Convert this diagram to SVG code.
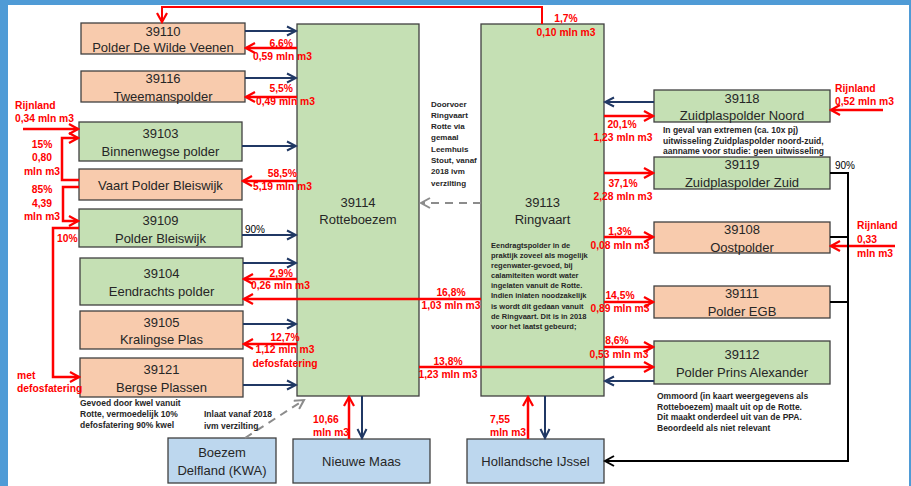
<svg xmlns="http://www.w3.org/2000/svg" width="911" height="486" viewBox="0 0 911 486">
<style>
.box{stroke:#404040;stroke-width:1.3}
.peach{fill:#F8CBAD}
.green{fill:#C5E0B4}
.blue{fill:#BDD7EE}
.t{font-family:"Liberation Sans",Arial,sans-serif;font-size:13px;fill:#262626;text-anchor:middle}
.r{font-family:"Liberation Sans",Arial,sans-serif;font-size:10.3px;font-weight:bold;fill:#FF0000}
.k{font-family:"Liberation Sans",Arial,sans-serif;font-size:10px;fill:#000}
.n{font-family:"Liberation Sans",Arial,sans-serif;font-size:8.5px;font-weight:bold;fill:#262626}
.n2{font-family:"Liberation Sans",Arial,sans-serif;font-size:7.5px;font-weight:bold;fill:#262626}
.n3{font-family:"Liberation Sans",Arial,sans-serif;font-size:8px;font-weight:bold;fill:#262626}
.mid{text-anchor:middle}
.end{text-anchor:end}
.red{stroke:#FF0000;stroke-width:2.5;fill:none}
.navy{stroke:#203864;stroke-width:2;fill:none}
.blk{stroke:#000;stroke-width:2;fill:none}
.dash{stroke:#8C8C8C;stroke-width:2;fill:none;stroke-dasharray:8 6}
</style>
<defs>
<marker id="mr" viewBox="0 0 12 12" refX="10" refY="6" markerWidth="12" markerHeight="12" markerUnits="userSpaceOnUse" orient="auto"><path d="M1,1 L10,6 L1,11" fill="none" stroke="#FF0000" stroke-width="2.2"/></marker>
<marker id="mn" viewBox="0 0 12 12" refX="10" refY="6" markerWidth="12" markerHeight="12" markerUnits="userSpaceOnUse" orient="auto"><path d="M1,1.5 L10,6 L1,10.5" fill="none" stroke="#203864" stroke-width="2"/></marker>
<marker id="mk" viewBox="0 0 12 12" refX="10" refY="6" markerWidth="12" markerHeight="12" markerUnits="userSpaceOnUse" orient="auto"><path d="M1,1 L10,6 L1,11" fill="none" stroke="#000" stroke-width="2"/></marker>
<marker id="mg" viewBox="0 0 12 12" refX="10" refY="6" markerWidth="12" markerHeight="12" markerUnits="userSpaceOnUse" orient="auto"><path d="M1,1 L10,6 L1,11" fill="none" stroke="#8C8C8C" stroke-width="2"/></marker>
</defs>
<rect x="0" y="0" width="911" height="486" fill="#4F9BD6"/>
<rect x="8" y="5" width="901" height="481" fill="#FFFFFF"/>

<g id="n39110"><rect class="box peach" x="81" y="23" width="164" height="31"/><text class="t" x="163" y="36">39110</text><text class="t" x="163" y="52">Polder De Wilde Veenen</text></g>
<g id="n39116"><rect class="box peach" x="81" y="71" width="164" height="31"/><text class="t" x="163" y="83">39116</text><text class="t" x="163" y="101">Tweemanspolder</text></g>
<g id="n39103"><rect class="box green" x="79" y="122" width="163" height="39"/><text class="t" x="160.5" y="138">39103</text><text class="t" x="160.5" y="156">Binnenwegse polder</text></g>
<g id="nVaart"><rect class="box peach" x="79" y="169" width="163" height="31"/><text class="t" x="160.5" y="190">Vaart Polder Bleiswijk</text></g>
<g id="n39109"><rect class="box green" x="79" y="209" width="163" height="38"/><text class="t" x="160.5" y="225">39109</text><text class="t" x="160.5" y="243">Polder Bleiswijk</text></g>
<g id="n39104"><rect class="box green" x="80" y="258" width="163" height="47"/><text class="t" x="161.5" y="278">39104</text><text class="t" x="161.5" y="296">Eendrachts polder</text></g>
<g id="n39105"><rect class="box peach" x="80" y="311" width="163" height="38"/><text class="t" x="161.5" y="327">39105</text><text class="t" x="161.5" y="344">Kralingse Plas</text></g>
<g id="n39121"><rect class="box peach" x="80" y="358" width="163" height="39"/><text class="t" x="161.5" y="374">39121</text><text class="t" x="161.5" y="392">Bergse Plassen</text></g>
<g id="nDelfland"><rect class="box blue" x="168" y="438" width="108" height="45"/><text class="t" x="222" y="457">Boezem</text><text class="t" x="222" y="475">Delfland (KWA)</text></g>
<g id="n39114"><rect class="box green" x="297" y="24" width="122" height="372"/><text class="t" x="358" y="207">39114</text><text class="t" x="358" y="224">Rotteboezem</text></g>
<g id="n39113"><rect class="box green" x="481" y="24" width="123" height="372"/><text class="t" x="542.5" y="207">39113</text><text class="t" x="542.5" y="224">Ringvaart</text></g>
<g id="nMaas"><rect class="box blue" x="293" y="439" width="137" height="44"/><text class="t" x="361.5" y="466">Nieuwe Maas</text></g>
<g id="nIJssel"><rect class="box blue" x="467" y="439" width="137" height="44"/><text class="t" x="535.5" y="466">Hollandsche IJssel</text></g>
<g id="n39118"><rect class="box green" x="654" y="90" width="176" height="32"/><text class="t" x="742" y="103">39118</text><text class="t" x="742" y="120">Zuidplaspolder Noord</text></g>
<g id="n39119"><rect class="box green" x="654" y="157" width="176" height="32"/><text class="t" x="742" y="169">39119</text><text class="t" x="742" y="187">Zuidplaspolder Zuid</text></g>
<g id="n39108"><rect class="box peach" x="654" y="222" width="176" height="31"/><text class="t" x="742" y="234">39108</text><text class="t" x="742" y="252">Oostpolder</text></g>
<g id="n39111"><rect class="box peach" x="654" y="286" width="176" height="32"/><text class="t" x="742" y="298">39111</text><text class="t" x="742" y="316">Polder EGB</text></g>
<g id="n39112"><rect class="box green" x="654" y="341" width="176" height="43"/><text class="t" x="742" y="359">39112</text><text class="t" x="742" y="377">Polder Prins Alexander</text></g>

<g id="connectors">
<line class="navy" x1="245" y1="31" x2="296" y2="31" marker-end="url(#mn)"/>
<line class="navy" x1="245" y1="78" x2="296" y2="78" marker-end="url(#mn)"/>
<line class="navy" x1="242" y1="146" x2="296" y2="146" marker-end="url(#mn)"/>
<line class="navy" x1="242" y1="235" x2="296" y2="235" marker-end="url(#mn)"/>
<line class="navy" x1="243" y1="263" x2="296" y2="263" marker-end="url(#mn)"/>
<line class="navy" x1="243" y1="324" x2="296" y2="324" marker-end="url(#mn)"/>
<line class="navy" x1="243" y1="385" x2="296" y2="385" marker-end="url(#mn)"/>
<line class="red" x1="297" y1="48" x2="246" y2="48" marker-end="url(#mr)"/>
<line class="red" x1="297" y1="97" x2="246" y2="97" marker-end="url(#mr)"/>
<line class="red" x1="297" y1="181" x2="243" y2="181" marker-end="url(#mr)"/>
<line class="red" x1="297" y1="279" x2="244" y2="279" marker-end="url(#mr)"/>
<line class="red" x1="297" y1="344" x2="244" y2="344" marker-end="url(#mr)"/>
<line class="red" x1="481" y1="299" x2="244" y2="299" marker-end="url(#mr)"/>
<line class="red" x1="419" y1="367" x2="653" y2="367" marker-end="url(#mr)"/>
<line class="red" x1="604" y1="116" x2="653" y2="116" marker-end="url(#mr)"/>
<line class="red" x1="604" y1="173" x2="653" y2="173" marker-end="url(#mr)"/>
<line class="red" x1="604" y1="237" x2="653" y2="237" marker-end="url(#mr)"/>
<line class="red" x1="604" y1="302" x2="653" y2="302" marker-end="url(#mr)"/>
<line class="red" x1="604" y1="347" x2="653" y2="347" marker-end="url(#mr)"/>
<line class="navy" x1="654" y1="102" x2="605" y2="102" marker-end="url(#mn)"/>
<line class="navy" x1="654" y1="381" x2="605" y2="381" marker-end="url(#mn)"/>
<line class="red" x1="883" y1="110" x2="831" y2="110" marker-end="url(#mr)"/>
<line class="red" x1="895" y1="246" x2="831" y2="246" marker-end="url(#mr)"/>
<line class="red" x1="23" y1="129" x2="78" y2="129" marker-end="url(#mr)"/>
<polyline class="red" points="79,180 62,180 62,138 78,138" marker-end="url(#mr)"/>
<polyline class="red" points="79,187 63,187 63,221 78,221" marker-end="url(#mr)"/>
<polyline class="red" points="79,228 53,228 53,377 79,377" marker-end="url(#mr)"/>
<polyline class="red" style="stroke-width:2" points="542,24 542,7 162,7 162,22" marker-end="url(#mr)"/>
<line class="red" x1="349" y1="439" x2="349" y2="397" marker-end="url(#mr)"/>
<line class="navy" x1="362" y1="396" x2="362" y2="438" marker-end="url(#mn)"/>
<line class="red" x1="528" y1="439" x2="528" y2="397" marker-end="url(#mr)"/>
<line class="navy" x1="545" y1="396" x2="545" y2="438" marker-end="url(#mn)"/>
<polyline class="blk" points="830,173 848,173 848,461 605,461" marker-end="url(#mk)"/>
<line class="blk" x1="830" y1="237" x2="848" y2="237"/>
<line class="blk" x1="830" y1="302" x2="848" y2="302"/>
<line class="dash" x1="481" y1="203" x2="421" y2="203" marker-end="url(#mg)"/>
<line class="dash" x1="245" y1="438" x2="304" y2="400" marker-end="url(#mg)"/>
</g>

<g id="labels">
<text class="r mid" x="566" y="22">1,7%</text><text class="r mid" x="566" y="36">0,10 mln m3</text>
<text class="r end" x="293" y="47">6,6%</text><text class="r" x="253" y="60">0,59 mln m3</text>
<text class="r end" x="293" y="92">5,5%</text><text class="r" x="256" y="105">0,49 mln m3</text>
<text class="r end" x="297" y="177">58,5%</text><text class="r" x="253" y="190">5,19 mln m3</text>
<text class="r end" x="293" y="277">2,9%</text><text class="r" x="251" y="289">0,26 mln m3</text>
<text class="r mid" x="451" y="296">16,8%</text><text class="r mid" x="451" y="309">1,03 mln m3</text>
<text class="r mid" x="285" y="341">12,7%</text><text class="r mid" x="285" y="353">1,12 mln m3</text><text class="r mid" x="285" y="367">defosfatering</text>
<text class="r mid" x="448" y="365">13,8%</text><text class="r mid" x="448" y="378">1,23 mln m3</text>
<text class="r" x="313" y="423">10,66</text><text class="r" x="313" y="436">mln m3</text>
<text class="r" x="490" y="423">7,55</text><text class="r" x="490" y="436">mln m3</text>
<text class="r mid" x="622" y="128">20,1%</text><text class="r mid" x="623" y="141">1,23 mln m3</text>
<text class="r mid" x="623" y="187">37,1%</text><text class="r mid" x="623" y="200">2,28 mln m3</text>
<text class="r mid" x="620" y="235">1,3%</text><text class="r mid" x="620" y="249">0,08 mln m3</text>
<text class="r mid" x="620" y="299">14,5%</text><text class="r mid" x="620" y="312">0,89 mln m3</text>
<text class="r mid" x="617" y="344">8,6%</text><text class="r mid" x="619" y="358">0,53 mln m3</text>
<text class="r" x="835" y="92">Rijnland</text><text class="r" x="835" y="105">0,52 mln m3</text>
<text class="r" x="857" y="229">Rijnland</text><text class="r" x="857" y="243">0,33</text><text class="r" x="857" y="257">mln m3</text>
<text class="r" x="15" y="109">Rijnland</text><text class="r" x="15" y="122">0,34 mln m3</text>
<text class="r mid" x="42" y="148">15%</text><text class="r mid" x="42" y="161">0,80</text><text class="r mid" x="42" y="175">mln m3</text>
<text class="r mid" x="42" y="193">85%</text><text class="r mid" x="42" y="207">4,39</text><text class="r mid" x="42" y="220">mln m3</text>
<text class="r" x="57" y="242">10%</text>
<text class="r" x="17" y="379">met</text><text class="r" x="17" y="392">defosfatering</text>
<text class="k" x="245" y="233">90%</text>
<text class="k" x="835" y="169">90%</text>
<text class="n" x="663" y="133">In geval van extremen (ca. 10x pj)</text>
<text class="n" x="663" y="144">uitwisseling Zuidplaspolder noord-zuid,</text>
<text class="n" x="663" y="154">aanname voor studie: geen uitwisseling</text>
<text class="n" x="657" y="399">Ommoord (in kaart weergegevens als</text>
<text class="n" x="657" y="410">Rotteboezem) maalt uit op de Rotte.</text>
<text class="n" x="657" y="420">Dit maakt onderdeel uit van de PPA.</text>
<text class="n" x="657" y="431">Beoordeeld als niet relevant</text>
<text class="n" x="80" y="406">Gevoed door kwel vanuit</text>
<text class="n" x="80" y="417">Rotte, vermoedelijk 10%</text>
<text class="n" x="80" y="428">defosfatering 90% kwel</text>
<text class="n" x="204" y="417">Inlaat vanaf 2018</text>
<text class="n" x="204" y="429">ivm verzilting</text>
<text class="n3" x="431" y="107">Doorvoer</text>
<text class="n3" x="431" y="118">Ringvaart</text>
<text class="n3" x="431" y="129">Rotte via</text>
<text class="n3" x="431" y="140">gemaal</text>
<text class="n3" x="431" y="152">Leemhuis</text>
<text class="n3" x="431" y="163">Stout, vanaf</text>
<text class="n3" x="431" y="174">2018 ivm</text>
<text class="n3" x="431" y="186">verzilting</text>
<text class="n2" x="491" y="248">Eendragtspolder in de</text>
<text class="n2" x="491" y="258">praktijk zoveel als mogelijk</text>
<text class="n2" x="491" y="268">regenwater-gevoed, bij</text>
<text class="n2" x="491" y="278">calamiteiten wordt water</text>
<text class="n2" x="491" y="288">ingelaten vanuit de Rotte.</text>
<text class="n2" x="491" y="298">Indien inlaten noodzakelijk</text>
<text class="n2" x="491" y="309">is wordt dit gedaan vanuit</text>
<text class="n2" x="491" y="319">de Ringvaart. Dit is in 2018</text>
<text class="n2" x="491" y="329">voor het laatst gebeurd;</text>
</g>
</svg>
